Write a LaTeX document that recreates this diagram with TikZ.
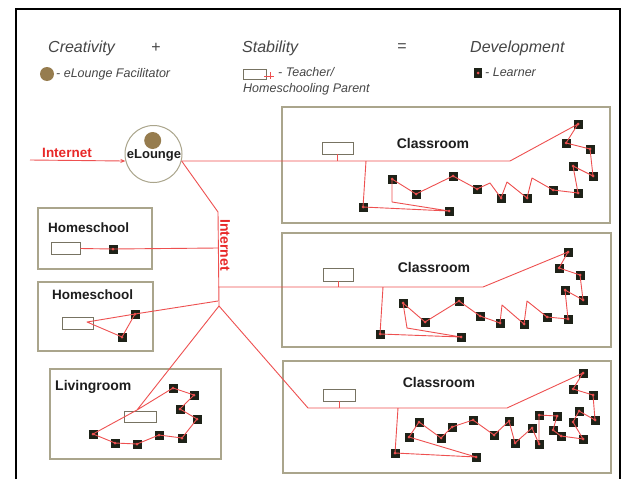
\documentclass[tikz,border=0pt]{standalone}
\usepackage{fontspec}
\setmainfont{Liberation Sans}
\usetikzlibrary{arrows.meta}
\definecolor{linkred}{RGB}{238,80,80}
\definecolor{boxc}{RGB}{170,165,140}
\definecolor{lrnc}{RGB}{30,34,24}
\definecolor{hdr}{RGB}{70,70,70}
\definecolor{lbl}{RGB}{30,30,30}
\definecolor{facil}{RGB}{150,124,78}
\definecolor{netred}{RGB}{232,40,40}
\begin{document}
\begin{tikzpicture}[x=1pt,y=-1pt,
 room/.style={draw=boxc, line width=1.1pt, fill=white, inner sep=0pt},
 tbox/.style={draw=boxc!70!black, line width=0.9pt, fill=white, inner sep=0pt},
 lrn/.style={fill=lrnc, minimum size=9pt, inner sep=0pt, path picture={\fill[linkred] (path picture bounding box.center) circle (1.5pt);}},
 link/.style={draw=linkred, line width=0.9pt, line join=round},
 hd/.style={font=\fontsize{16}{18}\selectfont\itshape, text=hdr, inner sep=0pt, anchor=west},
 lg/.style={font=\fontsize{12.5}{14}\selectfont\itshape, text=hdr, inner sep=0pt, anchor=west},
 lab/.style={font=\fontsize{14}{16}\selectfont\bfseries, text=lbl, inner sep=0pt},
 net/.style={font=\fontsize{13.5}{15}\selectfont\bfseries, text=netred, inner sep=0pt},
]
\useasboundingbox (0,0) rectangle (623,479);
\fill[white] (0,0) rectangle (623,479);
% frame
\draw[line width=2pt] (16,479) -- (16,9) -- (620,9) -- (620,479);

% header
\node[hd] (hcre) at (48,48) {Creativity};
\node[hd] (hplus) at (151,48) {+};
\node[hd] (hsta) at (242,48) {Stability};
\node[hd] (heq) at (397,48) {=};
\node[hd] (hdev) at (470,48) {Development};

% legend
\node[circle, fill=facil, minimum size=14pt, inner sep=0pt] (lfac) at (47,74) {};
\node[lg] (lfact) at (56,74) {- eLounge Facilitator};
\node[tbox, minimum width=23pt, minimum height=10pt] (ltch) at (254.5,74) {};
\draw[link] (264,76) -- (274,76);
\draw[link] (270,72) -- (270,79);
\node[lg] (ltcht) at (278,72) {- Teacher/};
\node[lg] (ltcht2) at (243,89) {Homeschooling Parent};
\node[lrn, minimum width=8pt, minimum height=10pt] (llrn) at (478,73) {};
\node[lg] (llrnt) at (485,72) {- Learner};

% rooms
\node[room, minimum width=328pt, minimum height=116pt] (cr1) at (446,165) {};
\node[room, minimum width=329pt, minimum height=114pt] (cr2) at (446.5,290) {};
\node[room, minimum width=328pt, minimum height=112pt] (cr3) at (447,417) {};
\node[room, minimum width=114pt, minimum height=61pt] (hs1) at (95,238.5) {};
\node[room, minimum width=115pt, minimum height=69pt] (hs2) at (95.5,316.5) {};
\node[room, minimum width=171pt, minimum height=90pt] (lv) at (135.5,414) {};

% room labels
\node[lab] (cr1t) at (433,143) {Classroom};
\node[lab] (cr2t) at (434,267) {Classroom};
\node[lab] (cr3t) at (439,382) {Classroom};
\node[lab, anchor=west, font=\fontsize{13.5}{15}\selectfont\bfseries] (hs1n) at (48,228) {Homeschool};
\node[lab, anchor=west, font=\fontsize{13.5}{15}\selectfont\bfseries] (hs2n) at (52,295) {Homeschool};
\node[lab, anchor=west] (lvn) at (55,387) {Livingroom};

% teachers
\node[tbox, minimum width=31pt, minimum height=12pt] (t1) at (337.5,148) {};
\node[tbox, minimum width=30pt, minimum height=13pt] (t2) at (338,274.5) {};
\node[tbox, minimum width=32pt, minimum height=12pt] (t3) at (339,395) {};
\node[tbox, minimum width=29pt, minimum height=12pt] (hs1t) at (65.5,248.5) {};
\node[tbox, minimum width=31pt, minimum height=12pt] (hs2t) at (77.5,323) {};
\node[tbox, minimum width=32pt, minimum height=11pt] (lvt) at (140,416.5) {};

% eLounge
\node[circle, draw=boxc, line width=1pt, minimum size=57pt, inner sep=0pt, fill=white] (el) at (153.5,154) {};
\node[circle, fill=facil, minimum size=17pt, inner sep=0pt] (elf) at (152.7,140.5) {};
\node[lab, font=\fontsize{13}{15}\selectfont\bfseries] (elt) at (154,155) {eLounge};

% learners
\foreach \n/\x/\y in {c1l1/363/207, c1l2/449/211, c1l3/392/179, c1l4/416/194, c1l5/453/176,
  c1l6/477/189, c1l7/501/198, c1l8/527/198, c1l9/553/190, c1l10/578/193, c1l11/593/176,
  c1l12/573/166, c1l13/590/149, c1l14/566/143, c1l15/578/124,
  c2l1/380/334, c2l2/461/337, c2l3/403/303, c2l4/425/322, c2l5/459/301, c2l6/480/316,
  c2l7/500/323, c2l8/524/324, c2l9/547/317, c2l10/568/319, c2l11/583/300, c2l12/565/290,
  c2l13/580/275, c2l14/559/268, c2l15/568/252,
  c3l1/395/453, c3l2/476/457, c3l3/409/437, c3l4/419/422, c3l5/441/438, c3l6/452/427,
  c3l7/473/420, c3l8/494/435, c3l9/509/421, c3l10/515/443, c3l11/532/428, c3l12/539/444,
  c3l13/539/415, c3l14/557/416, c3l15/553/430, c3l16/561/436, c3l17/583/439, c3l18/573/422,
  c3l19/579/411, c3l20/595/420, c3l21/593/395, c3l22/573/389, c3l23/583/373,
  lv1/93/434, lv2/115/443, lv3/137/444, lv4/159/435, lv5/182/438, lv6/197/419,
  lv7/180/409, lv8/194/395, lv9/173/388,
  hs1l/113/249, hs2a/135/314, hs2b/122/337}
  \node[lrn] (\n) at (\x,\y) {};

% coordinates
\coordinate (inetL) at (30,160);
\coordinate (ibend) at (218,212);
\coordinate (hub) at (219,306);
\coordinate (c1a) at (510,161);
\coordinate (c1v) at (366,161);
\coordinate (c1p1) at (490,183);
\coordinate (c1p2) at (507,182);
\coordinate (c1p3) at (532,178);
\coordinate (c1k) at (392,202);
\coordinate (c2j) at (218,287);
\coordinate (c2a) at (483,287);
\coordinate (c2v) at (383,287);
\coordinate (c2p1) at (502,305);
\coordinate (c2p2) at (527,301);
\coordinate (c2k) at (407,328);
\coordinate (c3b) at (308,408);
\coordinate (c3a) at (507,408);
\coordinate (c3v) at (398,408);
\coordinate (hs1j) at (218,248);
\coordinate (hs2j) at (218,301);
\coordinate (hs2p) at (87,322);
\coordinate (lvp) at (137,410);

% internet links
\node[net] (inet) at (67,153) {Internet};
\draw[link, -{Stealth[length=5pt,width=4pt]}] (inetL) -- (el.194);
\draw[link] (el.-14) -- (ibend) -- (hub);
\node[net, rotate=-90, font=\fontsize{14}{16}\selectfont\bfseries] (inetv) at (225,245) {Internet};

% classroom 1
\draw[link] (el.-14) -- (c1a) -- (c1l15.center) -- (c1l14.center) -- (c1l13.center) -- (c1l11.center)
  -- (c1l12.center) -- (c1l10.center) -- (c1l9.center) -- (c1p3) -- (c1l8.center) -- (c1p2)
  -- (c1l7.center) -- (c1p1) -- (c1l6.center) -- (c1l5.center) -- (c1l4.center) -- (c1l3.center)
  -- (c1k) -- (c1l2.center) -- (c1l1.center) -- (c1v);
\draw[link] (t1.south) -- (t1.south |- c1a);

% classroom 2
\draw[link] (c2j) -- (c2a) -- (c2l15.center) -- (c2l14.center) -- (c2l13.center) -- (c2l11.center)
  -- (c2l12.center) -- (c2l10.center) -- (c2l9.center) -- (c2p2) -- (c2l8.center) -- (c2p1)
  -- (c2l7.center) -- (c2l6.center) -- (c2l5.center) -- (c2l4.center) -- (c2l3.center)
  -- (c2k) -- (c2l2.center) -- (c2l1.center) -- (c2v);
\draw[link] (t2.south) -- (t2.south |- c2a);

% classroom 3
\draw[link] (hub) -- (c3b) -- (c3a) -- (c3l23.center) -- (c3l22.center) -- (c3l21.center) -- (c3l20.center)
  -- (c3l19.center) -- (c3l18.center) -- (c3l17.center) -- (c3l16.center) -- (c3l15.center)
  -- (c3l14.center) -- (c3l13.center) -- (c3l12.center) -- (c3l11.center) -- (c3l10.center)
  -- (c3l9.center) -- (c3l8.center) -- (c3l7.center) -- (c3l6.center) -- (c3l5.center)
  -- (c3l4.center) -- (c3l3.center) -- (c3l2.center) -- (c3l1.center) -- (c3v);
\draw[link] (t3.south) -- (t3.south |- c3a);

% homeschools
\draw[link] (hs1t.east) -- (hs1l.center) -- (hs1j);
\draw[link] (hs2j) -- (hs2a.center) -- (hs2p) -- (hs2b.center) -- (hs2a.center);

% livingroom
\draw[link] (hub) -- (lvp) -- (lv1.center) -- (lv2.center) -- (lv3.center) -- (lv4.center)
  -- (lv5.center) -- (lv6.center) -- (lv7.center) -- (lv8.center) -- (lv9.center) -- (lvp);
\end{tikzpicture}
\end{document}
